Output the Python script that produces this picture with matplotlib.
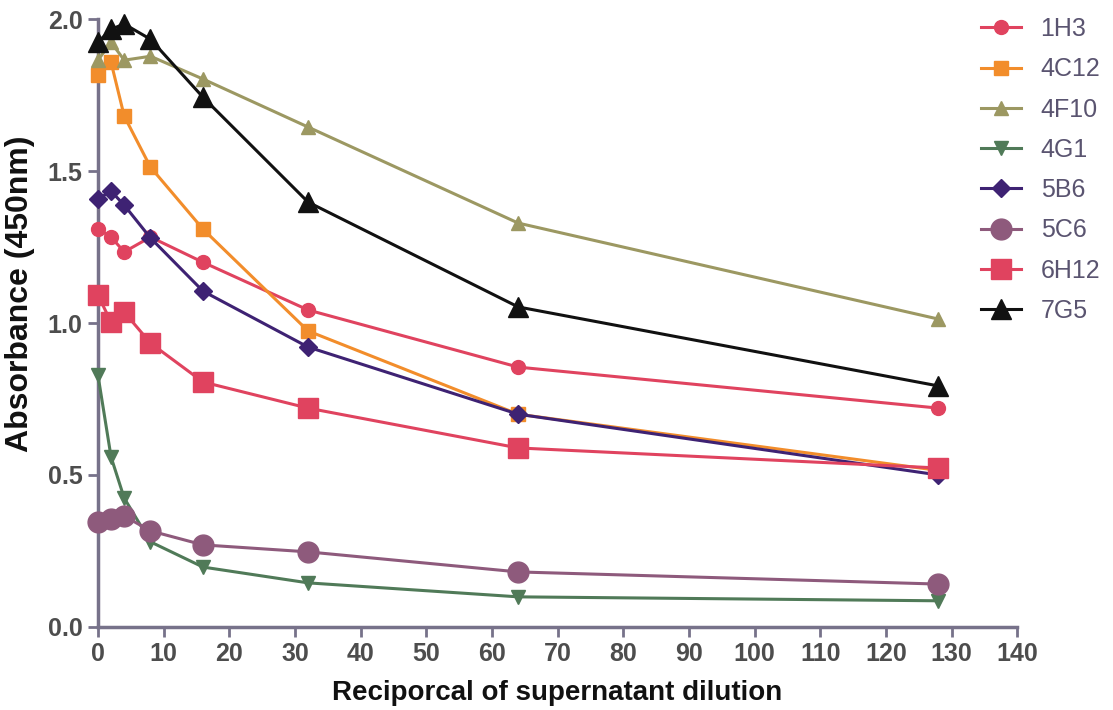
import matplotlib
matplotlib.use("Agg")
import matplotlib.pyplot as plt

plt.rcParams['font.family'] = ['Liberation Sans', 'DejaVu Sans']

dilution = [0, 2, 4, 8, 16, 32, 64, 128]

series_names = ["1H3", "4C12", "4F10", "4G1", "5B6", "5C6", "6H12", "7G5"]

v_1H3 = [1.31, 1.283, 1.234, 1.283, 1.20, 1.043, 0.855, 0.72]
v_4C12 = [1.816, 1.858, 1.681, 1.513, 1.309, 0.974, 0.70, 0.515]
v_4F10 = [1.865, 1.924, 1.865, 1.878, 1.803, 1.645, 1.329, 1.013]
v_4G1 = [0.829, 0.559, 0.424, 0.28, 0.197, 0.145, 0.099, 0.086]
v_5B6 = [1.408, 1.434, 1.388, 1.28, 1.105, 0.921, 0.70, 0.50]
v_5C6 = [0.345, 0.355, 0.365, 0.316, 0.27, 0.247, 0.181, 0.141]
v_6H12 = [1.092, 1.003, 1.036, 0.934, 0.806, 0.72, 0.589, 0.523]
v_7G5 = [1.924, 1.967, 1.984, 1.934, 1.743, 1.398, 1.053, 0.793]

values = [v_1H3, v_4C12, v_4F10, v_4G1, v_5B6, v_5C6, v_6H12, v_7G5]

colors = ["#e0435f", "#f28d2b", "#9c9862", "#507a58", "#3e2273", "#8e5a7c", "#e0435f", "#111111"]
markers = ["o", "s", "^", "v", "D", "o", "s", "^"]
msizes = [10, 10, 10, 10, 9, 15, 15, 14]

axis_col = "#77728a"
text_col = "#4d4d4d"

fig = plt.figure(figsize=(11.13, 7.10), dpi=100)
ax = fig.add_axes([0.088, 0.117, 0.826, 0.856])

for name, vals, c, m, ms in zip(series_names, values, colors, markers, msizes):
    ax.plot(dilution, vals, color=c, marker=m, markersize=ms, linewidth=2.2,
            label=name, clip_on=False, zorder=3)

ax.set_xlim(0, 140)
ax.set_ylim(0, 2.0)
ax.set_xticks(range(0, 141, 10))
ax.set_yticks([0.0, 0.5, 1.0, 1.5, 2.0])
ax.set_yticklabels(["0.0", "0.5", "1.0", "1.5", "2.0"])

for s in ["top", "right"]:
    ax.spines[s].set_visible(False)
for s in ["left", "bottom"]:
    ax.spines[s].set_color(axis_col)
    ax.spines[s].set_linewidth(2.5)

ax.tick_params(axis="both", direction="out", length=7, width=2, color=axis_col,
               labelsize=18, labelcolor=text_col, pad=4)
for lab in ax.get_xticklabels() + ax.get_yticklabels():
    lab.set_fontweight("bold")

ax.set_xlabel("Reciporcal of supernatant dilution", fontsize=20, fontweight="bold",
              color="#111111", labelpad=10)
ax.set_ylabel("Absorbance (450nm)", fontsize=23, fontweight="bold",
              color="#111111")
ax.yaxis.set_label_coords(-0.069, 0.548)

leg = fig.legend(loc="upper left", bbox_to_anchor=(0.872, 0.99), frameon=False,
                 fontsize=18, labelspacing=0.65, handlelength=1.6, handletextpad=0.8,
                 borderaxespad=0)
for t in leg.get_texts():
    t.set_color("#5a5470")

fig.savefig("out.png", dpi=100)
